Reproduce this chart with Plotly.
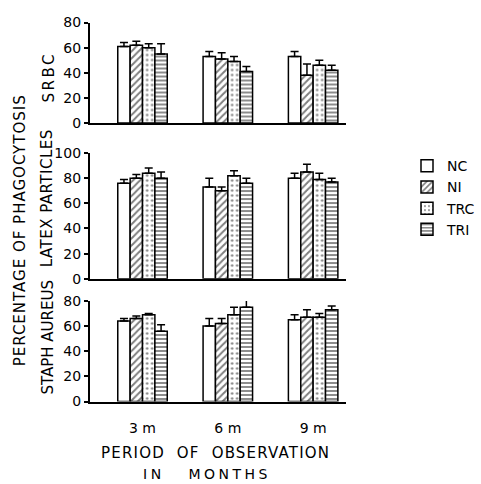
import plotly.graph_objects as go
from plotly.subplots import make_subplots

periods = ["3 m", "6 m", "9 m"]
groups = ["NC", "NI", "TRC", "TRI"]

srbc_vals = {"NC": [61, 53, 53], "NI": [62, 51, 38], "TRC": [60, 49, 46], "TRI": [55, 41, 42]}
srbc_err = {"NC": [3, 4, 4], "NI": [3, 5, 9], "TRC": [3, 4, 4], "TRI": [8, 4, 4]}

latex_vals = {"NC": [76, 73, 80], "NI": [80, 70, 85], "TRC": [84, 82, 79], "TRI": [80, 76, 77]}
latex_err = {"NC": [3, 7, 4], "NI": [3, 3, 6], "TRC": [4, 4, 5], "TRI": [5, 4, 3]}

staph_vals = {"NC": [64, 60, 65], "NI": [66, 62, 67], "TRC": [69, 69, 67], "TRI": [56, 75, 73]}
staph_err = {"NC": [2, 6, 4], "NI": [2, 4, 6], "TRC": [1, 6, 3], "TRI": [5, 6, 3]}

patterns = {"NC": "", "NI": "/", "TRC": ".", "TRI": "-"}
pat_size = {"NC": 6, "NI": 5, "TRC": 5, "TRI": 4}
pat_sol = {"NC": 0.3, "NI": 0.4, "TRC": 0.18, "TRI": 0.45}

panels = [(srbc_vals, srbc_err), (latex_vals, latex_err), (staph_vals, staph_err)]

W, H = 481, 484
FONT = "DejaVu Sans"

fig = make_subplots(rows=3, cols=1)
xnum = [1, 2, 3]
for r, (vals, errs) in enumerate(panels, start=1):
    for g in groups:
        fig.add_trace(go.Bar(
            x=xnum, y=vals[g], name=g, legendgroup=g, showlegend=(r == 1),
            marker=dict(color="white", line=dict(color="black", width=1.5),
                        pattern=dict(shape=patterns[g], fgcolor="black", bgcolor="white",
                                     size=pat_size[g], solidity=pat_sol[g])),
            error_y=dict(type="data", symmetric=False, array=errs[g],
                         arrayminus=[0] * 3, color="black", thickness=1.5, width=4),
        ), row=r, col=1)

def py(p):
    return 1 - p / H

x_dom = [90 / W, 347 / W]
doms = [([py(119), py(15)], [0, 80], [0, 20, 40, 60, 80]),
        ([py(280), py(150)], [0, 100], [0, 20, 40, 60, 80, 100]),
        ([py(407), py(303)], [0, 80], [0, 20, 40, 60, 80])]

for i, (yd, yr, tv) in enumerate(doms, start=1):
    sx = "" if i == 1 else str(i)
    fig.layout["xaxis" + sx].update(
        domain=x_dom, range=[0.38, 3.38], tickvals=xnum,
        ticktext=periods if i == 3 else ["", "", ""],
        showline=True, linecolor="black", linewidth=1.5, ticks="",
        ticklabelstandoff=13,
        showgrid=False, zeroline=False, tickfont=dict(size=14, color="black", family=FONT),
        anchor="y" + sx)
    fig.layout["yaxis" + sx].update(
        domain=yd, range=yr, tickvals=tv, showline=True, linecolor="black",
        linewidth=1.5, ticks="outside", ticklen=4, tickwidth=1.5, tickcolor="black",
        showgrid=False, zeroline=False, tickfont=dict(size=14, color="black", family=FONT),
        anchor="x" + sx)

ann = []
def A(text, x, y, angle=0, size=15, ls=1):
    ann.append(dict(text='<span style="letter-spacing:%spx">%s</span>' % (ls, text),
                    x=x / W, y=py(y), xref="paper", yref="paper",
                    showarrow=False, textangle=angle,
                    font=dict(size=size, color="black", family=FONT),
                    xanchor="center", yanchor="middle"))

A("PERCENTAGE OF PHAGOCYTOSIS", 20, 230, -90, 15, 1)
A("SRBC", 49, 72, -90, 15, 2.5)
A("LATEX PARTICLES", 48, 197, -90, 15, 0.5)
A("STAPH AUREUS", 48, 340, -90, 15, 0)
A("PERIOD  OF  OBSERVATION", 216, 460, 0, 15, 1.2)
A("IN   MONTHS", 208, 482, 0, 14, 3.5)

fig.update_layout(
    width=W, height=H, margin=dict(l=0, r=0, t=0, b=0),
    paper_bgcolor="white", plot_bgcolor="white",
    barmode="group", bargap=0.42, bargroupgap=0.0,
    annotations=ann, showlegend=True,
    legend=dict(x=409 / W, y=py(147), xanchor="left", yanchor="top",
                font=dict(size=14, color="black", family=FONT),
                bgcolor="rgba(0,0,0,0)", tracegroupgap=0, itemwidth=30),
    font=dict(family=FONT, color="black"),
)

fig.write_html("out.html", config={"displayModeBar": False},
               post_script="document.body.style.margin='0';")
